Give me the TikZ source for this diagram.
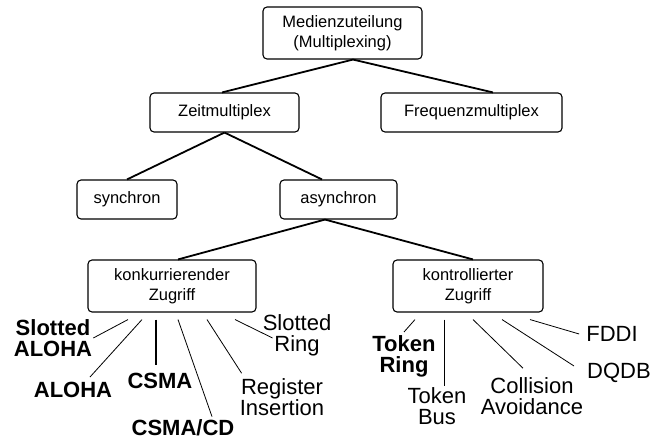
\documentclass[tikz,border=0pt]{standalone}
\usepackage{fontspec}
\setmainfont{Liberation Sans}
\begin{document}
\begin{tikzpicture}[x=1pt,y=-1pt,
    box/.style={draw,rounded corners=4pt,line width=1.1pt,align=center,inner sep=0pt,minimum height=39pt,font=\fontsize{16.5}{20.5}\selectfont},
    leaf/.style={align=center,inner sep=1pt,font=\fontsize{22}{21}\selectfont},
    bleaf/.style={leaf,font=\fontsize{22}{21}\selectfont\bfseries},
    edge/.style={line width=1.8pt},
    twig/.style={line width=0.8pt}]
    \useasboundingbox (0,0) rectangle (655,441);
    % boxes
    \node[box,minimum width=159pt,minimum height=52pt] (medien) at (342.5,33) {Medienzuteilung\\(Multiplexing)};
    \node[box,minimum width=149pt] (zeit) at (224.5,112.5) {Zeitmultiplex};
    \node[box,minimum width=181pt] (freq) at (471.5,112.5) {Frequenzmultiplex};
    \node[box,minimum width=100pt] (sync) at (127,199.5) {synchron};
    \node[box,minimum width=117pt] (asyn) at (338.5,199.5) {asynchron};
    \node[box,minimum width=168pt,minimum height=52pt] (konk) at (172,286) {konkurrierender\\Zugriff};
    \node[box,minimum width=150pt,minimum height=52pt] (kontr) at (468,286) {kontrollierter\\Zugriff};
    % tree
    \draw[edge] ([xshift=10.5pt]medien.south) -- ([xshift=-2.5pt]zeit.north);
    \draw[edge] ([xshift=10.5pt]medien.south) -- ([xshift=21.5pt]freq.north);
    \draw[edge] (zeit.south) -- (sync.north);
    \draw[edge] (zeit.south) -- ([xshift=-16.5pt]asyn.north);
    \draw[edge] ([xshift=-13.5pt]asyn.south) -- ([xshift=6pt]konk.north);
    \draw[edge] ([xshift=-13.5pt]asyn.south) -- ([xshift=5pt]kontr.north);
    % leaves
    \node[bleaf] (slal) at (53,338) {Slotted\\ALOHA};
    \node[bleaf] (aloha) at (73,390) {ALOHA};
    \node[bleaf] (csma) at (160,381) {CSMA};
    \node[bleaf] (csmacd) at (183,428) {CSMA/CD};
    \node[leaf] (reg) at (282,397) {Register\\Insertion};
    \node[leaf] (slri) at (297,335) {Slotted\\Ring};
    \node[bleaf] (tori) at (404,356) {Token\\Ring};
    \node[leaf] (tobu) at (437,406) {Token\\Bus};
    \node[leaf] (coll) at (532,396) {Collision\\Avoidance};
    \node[leaf] (dqdb) at (619,373) {DQDB};
    \node[leaf] (fddi) at (612,334) {FDDI};
    \draw[twig] ([xshift=-44pt,yshift=-7pt]konk.south) -- (slal.east);
    \draw[twig] ([xshift=-30pt,yshift=-7pt]konk.south) -- ([xshift=17pt,yshift=4pt]aloha.north);
    \draw[edge] ([xshift=-16pt,yshift=-7pt]konk.south) -- ([xshift=-4pt,yshift=7pt]csma.north);
    \draw[twig] ([xshift=6pt,yshift=-7pt]konk.south) -- ([xshift=29pt,yshift=2pt]csmacd.north);
    \draw[twig] ([xshift=35pt,yshift=-7pt]konk.south) -- ([xshift=3pt,yshift=4pt]reg.north west);
    \draw[twig] ([xshift=63pt,yshift=-7pt]konk.south) -- ([xshift=11pt,yshift=-3pt]slri.west);
    \draw[twig] ([xshift=-53pt,yshift=-7pt]kontr.south) -- ([yshift=2pt]tori.north);
    \draw[twig] ([xshift=-24pt,yshift=-7pt]kontr.south) -- ([xshift=7pt]tobu.north);
    \draw[twig] ([xshift=5pt,yshift=-7pt]kontr.south) -- ([xshift=-9pt,yshift=8pt]coll.north);
    \draw[twig] ([xshift=34pt,yshift=-7pt]kontr.south) -- ([xshift=-12pt,yshift=7pt]dqdb.west);
    \draw[twig] ([xshift=62pt,yshift=-7pt]kontr.south) -- ([xshift=-6pt]fddi.west);
\end{tikzpicture}
\end{document}
